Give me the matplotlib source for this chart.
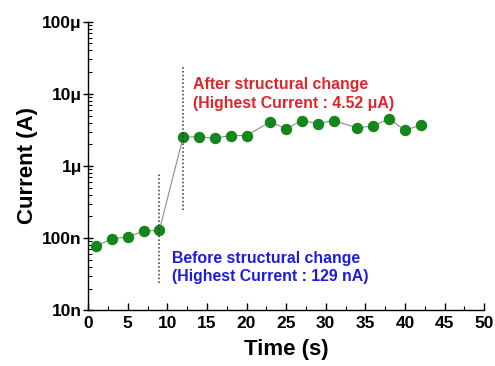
import matplotlib.pyplot as plt
from matplotlib.ticker import FixedLocator, LogLocator, NullFormatter, MultipleLocator

plt.rcParams['font.family'] = ['Liberation Sans', 'DejaVu Sans']
plt.rcParams['font.weight'] = 'bold'

# data
time_s = [1, 3, 5, 7, 9, 12, 14, 16, 18, 20, 23, 25, 27, 29, 31, 34, 36, 38, 40, 42]
current_a = [78e-9, 98e-9, 104e-9, 125e-9, 129e-9,
             2.53e-6, 2.53e-6, 2.43e-6, 2.64e-6, 2.64e-6,
             4.08e-6, 3.27e-6, 4.26e-6, 3.87e-6, 4.26e-6,
             3.37e-6, 3.59e-6, 4.52e-6, 3.13e-6, 3.67e-6]

before_x = 9
before_span = [24e-9, 0.78e-6]
after_x = 12
after_span = [0.247e-6, 25e-6]

y_ticks = [1e-8, 1e-7, 1e-6, 1e-5, 1e-4]
y_labels = ['10n', '100n', '1\u03bc', '10\u03bc', '100\u03bc']

fig = plt.figure(figsize=(4.95, 3.66), dpi=100)
ax = fig.add_axes([0.178, 0.152, 0.8, 0.789])

ax.plot(time_s, current_a, color='#8c8c8c', lw=0.8, zorder=1)
ax.plot(time_s, current_a, 'o', color='#14861a', ms=7.2, mec='#14861a', zorder=2)

ax.vlines(before_x, before_span[0], before_span[1], colors='#333333', linestyles=(0, (1, 1.5)), lw=1.1)
ax.vlines(after_x, after_span[0], after_span[1], colors='#333333', linestyles=(0, (1, 1.5)), lw=1.1)

ax.text(13.2, 5.8e-6, 'After structural change\n(Highest Current : 4.52 \u03bcA)',
        color='#e0242a', fontsize=11.4, fontweight='bold', va='bottom', ha='left', linespacing=1.3)
ax.text(10.6, 23e-9, 'Before structural change\n(Highest Current : 129 nA)',
        color='#1c1ce0', fontsize=11.4, fontweight='bold', va='bottom', ha='left', linespacing=1.3)

ax.set_yscale('log')
ax.set_xlim(0, 50)
ax.set_ylim(1e-8, 1e-4)
ax.yaxis.set_major_locator(FixedLocator(y_ticks))
ax.set_yticklabels(y_labels)
ax.yaxis.set_minor_locator(LogLocator(base=10, subs=range(2, 10)))
ax.yaxis.set_minor_formatter(NullFormatter())
ax.xaxis.set_major_locator(MultipleLocator(5))
ax.xaxis.set_minor_locator(MultipleLocator(2.5))

ax.spines['top'].set_visible(False)
ax.spines['right'].set_visible(False)
ax.spines['left'].set_linewidth(1.0)
ax.spines['bottom'].set_linewidth(1.0)

ax.tick_params(axis='y', which='major', direction='inout', length=7, width=1, labelsize=12.5, pad=1)
ax.tick_params(axis='y', which='minor', direction='in', length=3, width=0.8)
ax.tick_params(axis='x', which='major', direction='in', length=5, width=1, labelsize=12.5, pad=4)
ax.tick_params(axis='x', which='minor', direction='in', length=3, width=0.8)
for lbl in ax.get_xticklabels() + ax.get_yticklabels():
    lbl.set_fontweight('bold')

ax.set_xlabel('Time (s)', fontsize=16, fontweight='bold', labelpad=6)
ax.set_ylabel('Current (A)', fontsize=16, fontweight='bold', labelpad=3)

fig.savefig('out.png', dpi=100)
